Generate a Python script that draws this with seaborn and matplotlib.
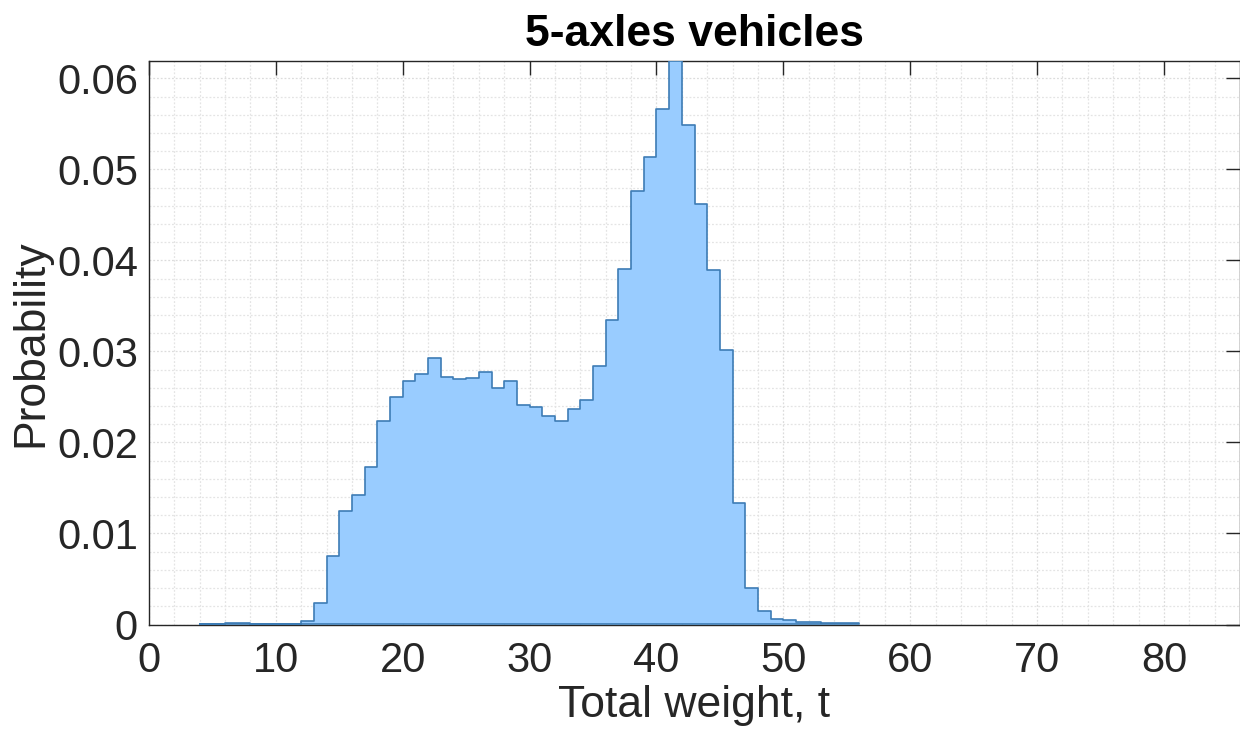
import numpy as np
import pandas as pd
import matplotlib
matplotlib.use("Agg")
import matplotlib.pyplot as plt
import seaborn as sns
from matplotlib.ticker import MultipleLocator

# Histogram of total vehicle weight (1 t bins) for 5-axle vehicles
bin_left = list(range(4, 56))  # left edge of each 1 t bin, 4..55
probability = [
    0.0001, 0.0001, 0.0002, 0.00012,          # 4-8
    0.0, 0.0, 0.0,                            # 8-11
    0.0001, 0.00036, 0.0024, 0.0075, 0.0125,  # 11-16
    0.0142, 0.0173, 0.0223, 0.0250, 0.0268,   # 16-21
    0.0275, 0.0293, 0.0272, 0.0270, 0.0271,   # 21-26
    0.0277, 0.0260, 0.0268, 0.0241, 0.0239,   # 26-31
    0.0229, 0.0223, 0.0237, 0.0247, 0.0284,   # 31-36
    0.0335, 0.0391, 0.0476, 0.0514, 0.0566,   # 36-41
    0.0619, 0.0549, 0.0462, 0.0389, 0.0301,   # 41-46
    0.0134, 0.0040, 0.00146, 0.00055, 0.00047,  # 46-51
    0.0003, 0.0003, 0.00015, 0.0002, 0.00015,   # 51-56
]
bin_width = 1.0
title = "5-axles vehicles"
x_label = "Total weight, t"
y_label = "Probability"

df = pd.DataFrame({
    "center": np.array(bin_left, dtype=float) + bin_width / 2,
    "prob": probability,
})
edges = [float(b) for b in bin_left] + [bin_left[-1] + bin_width]

sns.set_style("white")
plt.rcParams["font.family"] = ["Liberation Sans", "DejaVu Sans"]

fig = plt.figure(figsize=(12.4, 7.32), dpi=100)
ax = fig.add_axes([149 / 1240, 1 - 624.5 / 732, (1240 - 149) / 1240, (624.5 - 61) / 732])

sns.histplot(
    data=df, x="center", weights="prob", bins=edges, stat="count",
    element="step", fill=True, color="#99CCFF", alpha=1.0,
    edgecolor="#3d7cb5", linewidth=1.2, ax=ax, zorder=3,
)

ax.set_xlim(0, 86)
ax.set_ylim(0, 0.0619)
ax.xaxis.set_major_locator(MultipleLocator(10))
ax.xaxis.set_minor_locator(MultipleLocator(2))
ax.yaxis.set_major_locator(MultipleLocator(0.01))
ax.yaxis.set_minor_locator(MultipleLocator(0.002))
ax.yaxis.set_major_formatter(matplotlib.ticker.FuncFormatter(
    lambda v, p: "0" if abs(v) < 1e-12 else f"{v:.2f}"))

ax.grid(which="major", color="#dcdcdc", linestyle=(0, (1.5, 1.5)), linewidth=0.9, zorder=0)
ax.grid(which="minor", color="#e4e4e4", linestyle=(0, (1.5, 1.5)), linewidth=0.9, zorder=0)
ax.set_axisbelow(True)

ax.tick_params(which="major", direction="in", length=10, width=1.0,
               color="#262626", labelsize=30, labelcolor="#262626",
               top=True, right=True)
ax.tick_params(axis="x", which="major", pad=12)
ax.tick_params(axis="y", which="major", pad=8)
ax.tick_params(which="minor", length=0, top=False, right=False)
for s in ax.spines.values():
    s.set_color("#262626")
    s.set_linewidth(1.0)
    s.set_visible(True)

ax.set_xlabel(x_label, fontsize=32, color="#262626", labelpad=3)
ax.set_ylabel(y_label, fontsize=32, color="#262626", labelpad=4)
ax.set_title(title, fontsize=32, fontweight="bold", color="black", pad=11)

fig.savefig("out.png", dpi=100)
